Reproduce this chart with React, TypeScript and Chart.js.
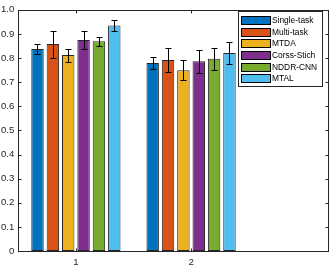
import React, { useEffect, useRef } from 'react';
import { Chart, registerables } from 'chart.js';

Chart.register(...registerables);

// ---- data ----
const categories = [1, 2];
const seriesNames = ['Single-task', 'Multi-task', 'MTDA', 'Corss-Stich', 'NDDR-CNN', 'MTAL'];
const seriesColors = ['#0072BD', '#D95319', '#EDB120', '#7E2F8E', '#77AC30', '#4DBEEE'];

const singleTask = [0.837, 0.779];
const multiTask = [0.858, 0.792];
const mtda = [0.812, 0.749];
const crossStitch = [0.875, 0.787];
const nddrCnn = [0.869, 0.797];
const mtal = [0.935, 0.821];

const singleTaskErr = [0.021, 0.025];
const multiTaskErr = [0.056, 0.048];
const mtdaErr = [0.027, 0.041];
const crossStitchErr = [0.036, 0.048];
const nddrCnnErr = [0.018, 0.046];
const mtalErr = [0.023, 0.044];

const xTicks = [1, 2];
const xMin = 0.5;
const xMax = 3.2;
const yMin = 0;
const yMax = 1;
const yStep = 0.1;

const seriesValues = [singleTask, multiTask, mtda, crossStitch, nddrCnn, mtal];
const seriesErrors = [singleTaskErr, multiTaskErr, mtdaErr, crossStitchErr, nddrCnnErr, mtalErr];

const FONT = '"Liberation Sans", Arial, Helvetica, sans-serif';
const AXIS = '#262626';

const decorPlugin = {
  id: 'matlabDecor',
  afterDatasetsDraw(chart: any) {
    const ctx = chart.ctx;
    const xs = chart.scales.x;
    const ys = chart.scales.y;
    const area = chart.chartArea;
    ctx.save();
    // error bars
    ctx.strokeStyle = '#000';
    ctx.lineWidth = 1;
    chart.data.datasets.forEach((ds: any, i: number) => {
      const meta = chart.getDatasetMeta(i);
      meta.data.forEach((el: any, j: number) => {
        const v = ds.data[j];
        const e = seriesErrors[i][j];
        const x = Math.round(el.x) + 0.5;
        const yh = Math.round(ys.getPixelForValue(v + e)) + 0.5;
        const yl = Math.round(ys.getPixelForValue(v - e)) + 0.5;
        ctx.beginPath();
        ctx.moveTo(x, yh);
        ctx.lineTo(x, yl);
        ctx.moveTo(x - 3, yh);
        ctx.lineTo(x + 3, yh);
        ctx.moveTo(x - 3, yl);
        ctx.lineTo(x + 3, yl);
        ctx.stroke();
      });
    });
    // frame
    ctx.strokeStyle = AXIS;
    ctx.lineWidth = 1;
    const L = Math.round(area.left) + 0.5;
    const R = Math.round(area.right) - 0.5;
    const T = Math.round(area.top) + 0.5;
    const B = Math.round(area.bottom) + 0.5;
    ctx.strokeRect(L, T, R - L, B - T);
    const tl = 3;
    ctx.beginPath();
    for (let v = yMin; v <= yMax + 1e-9; v += yStep) {
      const y = Math.round(ys.getPixelForValue(v)) + 0.5;
      ctx.moveTo(L, y);
      ctx.lineTo(L + tl, y);
      ctx.moveTo(R, y);
      ctx.lineTo(R - tl, y);
    }
    xTicks.forEach((t) => {
      const x = Math.round(xs.getPixelForValue(t)) + 0.5;
      ctx.moveTo(x, B);
      ctx.lineTo(x, B - tl);
      ctx.moveTo(x, T);
      ctx.lineTo(x, T + tl);
    });
    ctx.stroke();

    // legend
    const lx = 238.5;
    const ly = 11.5;
    const lw = 84;
    const lh = 75;
    ctx.fillStyle = '#fff';
    ctx.fillRect(lx, ly, lw, lh);
    ctx.strokeStyle = AXIS;
    ctx.strokeRect(lx, ly, lw, lh);
    ctx.font = `8.4px ${FONT}`;
    ctx.textBaseline = 'middle';
    ctx.textAlign = 'left';
    seriesNames.forEach((name, i) => {
      const top = 16 + i * 11.67;
      const sy = Math.round(top) + 0.5;
      ctx.fillStyle = seriesColors[i];
      ctx.fillRect(241.5, sy, 29, 8);
      ctx.strokeStyle = '#000';
      ctx.strokeRect(241.5, sy, 29, 8);
      ctx.fillStyle = '#000';
      ctx.fillText(name, 272, sy + 4.5);
    });
    ctx.restore();
  },
};

export default function App() {
  const ref = useRef<HTMLCanvasElement | null>(null);
  useEffect(() => {
    if (!ref.current) return;
    const chart = new Chart(ref.current, {
      type: 'bar',
      data: {
        labels: categories,
        datasets: seriesNames.map((name, i) => ({
          label: name,
          data: seriesValues[i],
          backgroundColor: seriesColors[i],
          borderColor: 'rgba(0,0,0,0.85)',
          borderWidth: 1,
          borderSkipped: false,
          categoryPercentage: 0.8,
          barPercentage: 0.81,
        })),
      },
      options: {
        responsive: false,
        animation: false,
        layout: { padding: { top: 5, right: 2.7, left: 0, bottom: 0 } },
        plugins: {
          legend: { display: false },
          tooltip: { enabled: false },
        },
        scales: {
          x: {
            type: 'linear',
            min: xMin,
            max: xMax,
            offset: false,
            grid: { display: false, drawTicks: false },
            border: { display: false },
            afterBuildTicks: (s: any) => {
              s.ticks = xTicks.map((v) => ({ value: v }));
            },
            afterFit: (s: any) => {
              s.height = 16;
            },
            ticks: {
              color: AXIS,
              font: { family: FONT, size: 9.6 },
              padding: 6,
              maxRotation: 0,
              autoSkip: false,
            },
          },
          y: {
            min: yMin,
            max: yMax,
            grid: { display: false, drawTicks: false },
            border: { display: false },
            afterFit: (s: any) => {
              s.width = 18.3;
            },
            ticks: {
              stepSize: yStep,
              color: AXIS,
              font: { family: FONT, size: 9.6 },
              padding: 4,
            },
          },
        },
      },
      plugins: [decorPlugin],
    } as any);
    return () => chart.destroy();
  }, []);
  return (
    <div style={{ position: 'fixed', left: 0, top: 0, width: 332, height: 267, background: '#fff' }}>
      <canvas ref={ref} width={332} height={267} style={{ display: 'block' }} />
    </div>
  );
}
